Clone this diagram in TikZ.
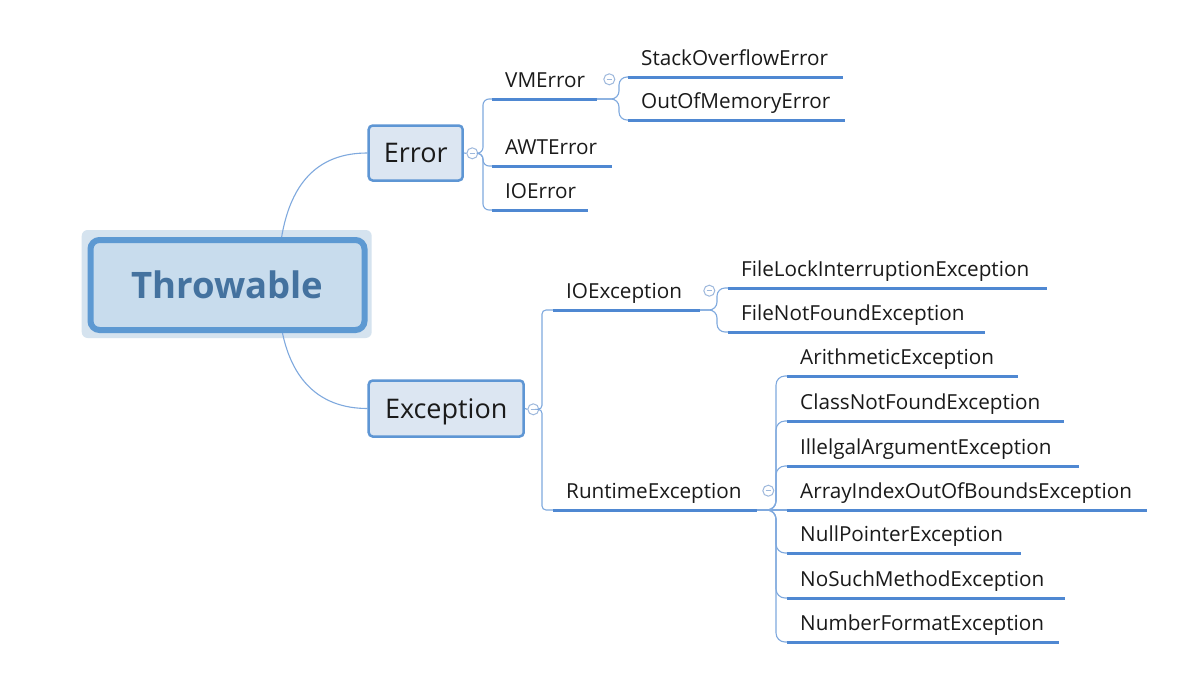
\documentclass[tikz,border=0pt]{standalone}
\usepackage{fontspec}
\setmainfont{Open Sans}
\usetikzlibrary{backgrounds,calc}
\definecolor{txtcol}{HTML}{1A1A1A}
\definecolor{ulcol}{HTML}{4F88D2}
\definecolor{conncol}{HTML}{7FA9DE}
\definecolor{togcol}{HTML}{9DB8DC}
\definecolor{thrglow}{HTML}{D5E3EF}
\definecolor{thrfill}{HTML}{C8DCED}
\definecolor{thrborder}{HTML}{5D99D2}
\definecolor{thrtext}{HTML}{44729F}
\definecolor{boxfill}{HTML}{DCE6F2}
\definecolor{boxborder}{HTML}{5E96D4}
\begin{document}
\begin{tikzpicture}[x=1pt,y=-1pt,
  conn/.style={draw=conncol, line width=1.1pt},
  uline/.style={draw=ulcol, line width=3pt},
  lbl/.style={anchor=base west, font=\fontsize{20.7}{24}\selectfont, text=txtcol, inner sep=0pt},
  catbox/.style={draw=boxborder, line width=2.5pt, fill=boxfill, rounded corners=4pt,
     font=\fontsize{27}{30}\selectfont, text=txtcol, text height=19pt, text depth=0pt, inner sep=0pt},
  togg/.style={circle, draw=togcol, line width=1pt, minimum size=11pt, inner sep=0pt, fill=white,
     path picture={\draw[togcol, line width=1pt] ([xshift=-2.8pt]path picture bounding box.center) -- ([xshift=2.8pt]path picture bounding box.center);}}
]
\useasboundingbox (0,0) rectangle (1182,693);

% root
\node[draw=thrborder, line width=6pt, fill=thrfill, rounded corners=9pt, minimum width=274pt, minimum height=90pt, inner sep=0pt,
  font=\bfseries\fontsize{36.5}{40}\selectfont, text=thrtext, text height=26pt, text depth=0pt] (thr) at (227.5,285) {Throwable};

% level 1
\node[catbox, minimum width=94pt, minimum height=55pt] (err) at (415.7,153) {Error};
\node[catbox, minimum width=155pt, minimum height=56pt] (exc) at (446.2,408.5) {Exception};

\begin{scope}[on background layer]
\fill[white] (0,0) rectangle (1182,693);
\node[fill=thrglow, rounded corners=6pt, minimum width=290pt, minimum height=108pt, inner sep=0pt] (glow) at (226.7,284) {};
\draw[conn] ([xshift=50.5pt]thr.center) .. controls (278,180) and (320,153) .. (err.west);
\draw[conn] ([xshift=50.5pt]thr.center) .. controls (278,380) and (320,408.5) .. (exc.west);
\end{scope}

% toggles
\node[togg] (errtog) at (472.3,153.3) {};
\node[togg] (vmtog) at (609.3,79.3) {};
\node[togg] (exctog) at (533.3,409.3) {};
\node[togg] (ioetog) at (709.3,290.7) {};
\node[togg] (rtetog) at (768.3,490.7) {};
\draw[conn] (err.east) -- (errtog.west);
\draw[conn] (exc.east) -- (exctog.west);

% underline coordinates
\coordinate (vms) at (492,99);   \coordinate (vme) at (597,99);
\coordinate (awts) at (492,166); \coordinate (awte) at (612,166);
\coordinate (ioers) at (492,210); \coordinate (ioere) at (588,210);
\coordinate (soes) at (628,77);  \coordinate (soee) at (843,77);
\coordinate (oomes) at (628,120); \coordinate (oomee) at (845,120);
\coordinate (ioes) at (553,310); \coordinate (ioee) at (700,310);
\coordinate (rtes) at (553,510); \coordinate (rtee) at (757,510);
\coordinate (flies) at (728,288); \coordinate (fliee) at (1047,288);
\coordinate (fnfes) at (728,332); \coordinate (fnfee) at (985,332);
\coordinate (aes) at (787,376);  \coordinate (aee) at (1018,376);
\coordinate (cnfs) at (787,421); \coordinate (cnfe) at (1064,421);
\coordinate (iaes) at (787,466); \coordinate (iaee) at (1079,466);
\coordinate (aios) at (787,510); \coordinate (aioe) at (1147,510);
\coordinate (npes) at (787,553); \coordinate (npee) at (1021,553);
\coordinate (nsms) at (787,598); \coordinate (nsme) at (1065,598);
\coordinate (nfes) at (787,642); \coordinate (nfee) at (1059,642);

% Error branch connectors
\draw[conn, rounded corners=6pt] (errtog.east) -- (483,153.3) |- (vms);
\draw[conn, rounded corners=6pt] (errtog.east) -- (483,153.3) |- (awts);
\draw[conn, rounded corners=6pt] (errtog.east) -- (483,153.3) |- (ioers);
\draw[conn, rounded corners=8pt] (vme) -- (619,99) |- (soes);
\draw[conn, rounded corners=8pt] (vme) -- (619,99) |- (oomes);

% Exception branch connectors
\draw[conn, rounded corners=4pt] (exctog.east) -- (542,409.3) |- (ioes);
\draw[conn, rounded corners=4pt] (exctog.east) -- (542,409.3) |- (rtes);
\draw[conn, rounded corners=8pt] (ioee) -- (717,310) |- (flies);
\draw[conn, rounded corners=8pt] (ioee) -- (717,310) |- (fnfes);
\foreach \c in {aes,cnfs,iaes,npes,nsms,nfes}
  \draw[conn, rounded corners=9pt] (rtee) -- (776,510) |- (\c);
\draw[conn] (rtee) -- (aios);

% underlines
\foreach \s/\e in {vms/vme,awts/awte,ioers/ioere,soes/soee,oomes/oomee,ioes/ioee,rtes/rtee,flies/fliee,fnfes/fnfee,aes/aee,cnfs/cnfe,iaes/iaee,aios/aioe,npes/npee,nsms/nsme,nfes/nfee}
  \draw[uline] (\s) -- (\e);

% labels
\node[lbl] (vm) at ([shift={(13,-12)}]vms) {VMError};
\node[lbl] (awt) at ([shift={(13,-12)}]awts) {AWTError};
\node[lbl] (ioerr) at ([shift={(13,-12)}]ioers) {IOError};
\node[lbl] (soe) at ([shift={(13,-12)}]soes) {StackOverflowError};
\node[lbl] (oome) at ([shift={(13,-12)}]oomes) {OutOfMemoryError};
\node[lbl] (ioe) at ([shift={(13,-12)}]ioes) {IOException};
\node[lbl] (rte) at ([shift={(13,-12)}]rtes) {RuntimeException};
\node[lbl] (flie) at ([shift={(13,-12)}]flies) {FileLockInterruptionException};
\node[lbl] (fnfe) at ([shift={(13,-12)}]fnfes) {FileNotFoundException};
\node[lbl] (ae) at ([shift={(13,-12)}]aes) {ArithmeticException};
\node[lbl] (cnf) at ([shift={(13,-12)}]cnfs) {ClassNotFoundException};
\node[lbl] (iae) at ([shift={(13,-12)}]iaes) {IllelgalArgumentException};
\node[lbl] (aio) at ([shift={(13,-12)}]aios) {ArrayIndexOutOfBoundsException};
\node[lbl] (npe) at ([shift={(13,-12)}]npes) {NullPointerException};
\node[lbl] (nsm) at ([shift={(13,-12)}]nsms) {NoSuchMethodException};
\node[lbl] (nfe) at ([shift={(13,-12)}]nfes) {NumberFormatException};
\end{tikzpicture}
\end{document}
